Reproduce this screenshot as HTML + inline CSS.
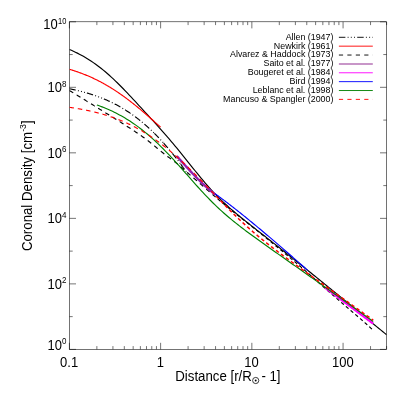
<!DOCTYPE html>
<html><head><meta charset="utf-8"><title>Coronal Density</title>
<style>
html,body{margin:0;padding:0;background:#fff;}
svg{display:block;will-change:transform;font-family:"Liberation Sans",sans-serif;}
</style></head>
<body>
<svg width="407" height="394" viewBox="0 0 407 394">
<rect x="0" y="0" width="407" height="394" fill="#fff"/>
<g stroke="#000" stroke-width="0.55" fill="none">
<rect x="69.4" y="21.8" width="317.20" height="327.60"/>
<line x1="69.40" y1="349.40" x2="69.40" y2="342.80"/><line x1="69.40" y1="21.80" x2="69.40" y2="28.40"/><line x1="96.86" y1="349.40" x2="96.86" y2="346.10"/><line x1="96.86" y1="21.80" x2="96.86" y2="25.10"/><line x1="112.93" y1="349.40" x2="112.93" y2="346.10"/><line x1="112.93" y1="21.80" x2="112.93" y2="25.10"/><line x1="124.32" y1="349.40" x2="124.32" y2="346.10"/><line x1="124.32" y1="21.80" x2="124.32" y2="25.10"/><line x1="133.16" y1="349.40" x2="133.16" y2="346.10"/><line x1="133.16" y1="21.80" x2="133.16" y2="25.10"/><line x1="140.39" y1="349.40" x2="140.39" y2="346.10"/><line x1="140.39" y1="21.80" x2="140.39" y2="25.10"/><line x1="146.49" y1="349.40" x2="146.49" y2="346.10"/><line x1="146.49" y1="21.80" x2="146.49" y2="25.10"/><line x1="151.78" y1="349.40" x2="151.78" y2="346.10"/><line x1="151.78" y1="21.80" x2="151.78" y2="25.10"/><line x1="156.45" y1="349.40" x2="156.45" y2="346.10"/><line x1="156.45" y1="21.80" x2="156.45" y2="25.10"/><line x1="160.62" y1="349.40" x2="160.62" y2="342.80"/><line x1="160.62" y1="21.80" x2="160.62" y2="28.40"/><line x1="188.09" y1="349.40" x2="188.09" y2="346.10"/><line x1="188.09" y1="21.80" x2="188.09" y2="25.10"/><line x1="204.15" y1="349.40" x2="204.15" y2="346.10"/><line x1="204.15" y1="21.80" x2="204.15" y2="25.10"/><line x1="215.55" y1="349.40" x2="215.55" y2="346.10"/><line x1="215.55" y1="21.80" x2="215.55" y2="25.10"/><line x1="224.39" y1="349.40" x2="224.39" y2="346.10"/><line x1="224.39" y1="21.80" x2="224.39" y2="25.10"/><line x1="231.61" y1="349.40" x2="231.61" y2="346.10"/><line x1="231.61" y1="21.80" x2="231.61" y2="25.10"/><line x1="237.72" y1="349.40" x2="237.72" y2="346.10"/><line x1="237.72" y1="21.80" x2="237.72" y2="25.10"/><line x1="243.01" y1="349.40" x2="243.01" y2="346.10"/><line x1="243.01" y1="21.80" x2="243.01" y2="25.10"/><line x1="247.68" y1="349.40" x2="247.68" y2="346.10"/><line x1="247.68" y1="21.80" x2="247.68" y2="25.10"/><line x1="251.85" y1="349.40" x2="251.85" y2="342.80"/><line x1="251.85" y1="21.80" x2="251.85" y2="28.40"/><line x1="279.31" y1="349.40" x2="279.31" y2="346.10"/><line x1="279.31" y1="21.80" x2="279.31" y2="25.10"/><line x1="295.38" y1="349.40" x2="295.38" y2="346.10"/><line x1="295.38" y1="21.80" x2="295.38" y2="25.10"/><line x1="306.77" y1="349.40" x2="306.77" y2="346.10"/><line x1="306.77" y1="21.80" x2="306.77" y2="25.10"/><line x1="315.61" y1="349.40" x2="315.61" y2="346.10"/><line x1="315.61" y1="21.80" x2="315.61" y2="25.10"/><line x1="322.84" y1="349.40" x2="322.84" y2="346.10"/><line x1="322.84" y1="21.80" x2="322.84" y2="25.10"/><line x1="328.94" y1="349.40" x2="328.94" y2="346.10"/><line x1="328.94" y1="21.80" x2="328.94" y2="25.10"/><line x1="334.23" y1="349.40" x2="334.23" y2="346.10"/><line x1="334.23" y1="21.80" x2="334.23" y2="25.10"/><line x1="338.90" y1="349.40" x2="338.90" y2="346.10"/><line x1="338.90" y1="21.80" x2="338.90" y2="25.10"/><line x1="343.07" y1="349.40" x2="343.07" y2="342.80"/><line x1="343.07" y1="21.80" x2="343.07" y2="28.40"/><line x1="370.54" y1="349.40" x2="370.54" y2="346.10"/><line x1="370.54" y1="21.80" x2="370.54" y2="25.10"/><line x1="386.60" y1="349.40" x2="386.60" y2="346.10"/><line x1="386.60" y1="21.80" x2="386.60" y2="25.10"/><line x1="69.40" y1="349.40" x2="76.00" y2="349.40"/><line x1="386.60" y1="349.40" x2="380.00" y2="349.40"/><line x1="69.40" y1="316.64" x2="72.70" y2="316.64"/><line x1="386.60" y1="316.64" x2="383.30" y2="316.64"/><line x1="69.40" y1="283.88" x2="76.00" y2="283.88"/><line x1="386.60" y1="283.88" x2="380.00" y2="283.88"/><line x1="69.40" y1="251.12" x2="72.70" y2="251.12"/><line x1="386.60" y1="251.12" x2="383.30" y2="251.12"/><line x1="69.40" y1="218.36" x2="76.00" y2="218.36"/><line x1="386.60" y1="218.36" x2="380.00" y2="218.36"/><line x1="69.40" y1="185.60" x2="72.70" y2="185.60"/><line x1="386.60" y1="185.60" x2="383.30" y2="185.60"/><line x1="69.40" y1="152.84" x2="76.00" y2="152.84"/><line x1="386.60" y1="152.84" x2="380.00" y2="152.84"/><line x1="69.40" y1="120.08" x2="72.70" y2="120.08"/><line x1="386.60" y1="120.08" x2="383.30" y2="120.08"/><line x1="69.40" y1="87.32" x2="76.00" y2="87.32"/><line x1="386.60" y1="87.32" x2="380.00" y2="87.32"/><line x1="69.40" y1="54.56" x2="72.70" y2="54.56"/><line x1="386.60" y1="54.56" x2="383.30" y2="54.56"/><line x1="69.40" y1="21.80" x2="76.00" y2="21.80"/><line x1="386.60" y1="21.80" x2="380.00" y2="21.80"/>
</g>
<clipPath id="c"><rect x="69.4" y="21.8" width="317.20" height="327.60"/></clipPath>
<g clip-path="url(#c)" stroke-linejoin="round">
<path d="M69.40,49.43 L71.39,50.30 L73.39,51.20 L75.38,52.15 L77.38,53.13 L79.37,54.16 L81.37,55.23 L83.36,56.35 L85.36,57.51 L87.35,58.72 L89.35,59.98 L91.34,61.28 L93.34,62.63 L95.33,64.04 L97.33,65.49 L99.32,66.99 L101.32,68.55 L103.31,70.16 L105.31,71.81 L107.30,73.52 L109.30,75.27 L111.29,77.07 L113.29,78.92 L115.28,80.81 L117.28,82.74 L119.27,84.72 L121.27,86.72 L123.26,88.76 L125.26,90.83 L127.25,92.92 L129.25,95.03 L131.24,97.16 L133.24,99.30 L135.23,101.45 L137.23,103.61 L139.22,105.77 L141.22,107.94 L143.21,110.10 L145.21,112.27 L147.20,114.44 L149.20,116.61 L151.19,118.79 L153.19,120.97 L155.18,123.16 L157.18,125.37 L159.17,127.58 L161.17,129.82 L163.16,132.07 L165.16,134.34 L167.15,136.64 L169.15,138.96 L171.14,141.30 L173.14,143.66 L175.13,146.05 L177.13,148.47 L179.12,150.90 L181.12,153.35 L183.11,155.82 L185.11,158.30 L187.10,160.79 L189.10,163.29 L191.09,165.79 L193.09,168.28 L195.08,170.76 L197.08,173.22 L199.07,175.67 L201.07,178.09 L203.06,180.47 L205.06,182.82 L207.05,185.13 L209.05,187.40 L211.04,189.61 L213.04,191.78 L215.03,193.89 L217.03,195.96 L219.02,197.97 L221.02,199.93 L223.01,201.85 L225.01,203.71 L227.00,205.54 L229.00,207.33 L230.99,209.08 L232.99,210.80 L234.98,212.49 L236.98,214.16 L238.97,215.81 L240.97,217.43 L242.96,219.04 L244.96,220.64 L246.95,222.23 L248.95,223.81 L250.94,225.38 L252.94,226.95 L254.93,228.52 L256.93,230.08 L258.92,231.64 L260.92,233.20 L262.91,234.76 L264.91,236.32 L266.90,237.88 L268.90,239.45 L270.89,241.01 L272.89,242.58 L274.88,244.15 L276.88,245.72 L278.87,247.29 L280.87,248.87 L282.86,250.45 L284.86,252.03 L286.85,253.62 L288.85,255.20 L290.84,256.79 L292.84,258.39 L294.83,259.98 L296.83,261.58 L298.82,263.18 L300.82,264.78 L302.81,266.38 L304.81,267.99 L306.80,269.59 L308.80,271.20 L310.79,272.81 L312.79,274.43 L314.78,276.04 L316.78,277.66 L318.77,279.27 L320.77,280.89 L322.76,282.51 L324.76,284.13 L326.75,285.76 L328.75,287.38 L330.74,289.01 L332.74,290.63 L334.73,292.26 L336.73,293.89 L338.72,295.52 L340.72,297.15 L342.71,298.78 L344.71,300.41 L346.70,302.04 L348.70,303.67 L350.69,305.31 L352.69,306.94 L354.68,308.58 L356.68,310.21 L358.67,311.85 L360.67,313.49 L362.66,315.12 L364.66,316.76 L366.65,318.40 L368.65,320.04 L370.64,321.68 L372.64,323.32 L374.63,324.96 L376.63,326.60 L378.62,328.24 L380.62,329.88 L382.61,331.52 L384.61,333.17 L386.60,334.81" fill="none" stroke="#000" stroke-width="1.15"/>
<path d="M69.40,88.77 L69.89,88.87 L70.38,88.96 L70.87,89.06 L71.36,89.16 L71.85,89.26 L72.34,89.37 L72.83,89.47 L73.32,89.57 L73.81,89.68 L74.30,89.78 L74.79,89.89 L75.27,90.00 L75.66,90.09 M77.90,90.61 L78.39,90.72 L78.78,90.82 M81.01,91.37 L81.50,91.50 L81.88,91.60 M84.11,92.19 L84.59,92.32 L84.98,92.43 M86.90,92.97 L87.38,93.11 L87.86,93.26 L88.34,93.40 L88.82,93.54 L89.30,93.69 L89.77,93.83 L90.25,93.98 L90.73,94.13 L91.21,94.28 L91.68,94.44 L92.16,94.59 L92.63,94.74 L93.01,94.87 M95.19,95.61 L95.66,95.77 L96.04,95.91 M98.20,96.69 L98.67,96.86 L99.05,97.00 M101.20,97.83 L101.66,98.01 L102.03,98.16 M103.88,98.91 L104.35,99.11 L104.81,99.30 L105.27,99.50 L105.73,99.69 L106.19,99.89 L106.64,100.09 L107.10,100.29 L107.56,100.50 L108.01,100.70 L108.47,100.91 L108.93,101.12 L109.38,101.33 L109.74,101.50 M111.82,102.49 L112.27,102.71 L112.63,102.88 M114.68,103.92 L115.12,104.15 L115.57,104.38 L116.01,104.61 L116.45,104.84 L116.89,105.08 L117.33,105.32 L117.77,105.56 L118.21,105.80 L118.65,106.04 L119.09,106.28 L119.52,106.53 L119.96,106.77 L120.39,107.02 M122.38,108.18 L122.81,108.44 L123.15,108.64 M125.11,109.85 L125.54,110.11 L125.96,110.38 L126.38,110.65 L126.80,110.92 L127.22,111.19 L127.64,111.46 L128.06,111.74 L128.48,112.01 L128.89,112.29 L129.31,112.57 L129.72,112.85 L130.14,113.13 L130.55,113.41 M132.44,114.73 L132.84,115.02 L133.17,115.25 M135.03,116.61 L135.43,116.90 L135.83,117.20 L136.23,117.50 L136.63,117.81 L137.02,118.11 L137.42,118.41 L137.82,118.72 L138.21,119.03 L138.60,119.34 L139.00,119.64 L139.39,119.96 L139.78,120.27 L140.17,120.58 M141.95,122.04 L142.34,122.36 L142.64,122.61 M144.40,124.10 L144.78,124.43 L145.15,124.75 L145.53,125.08 L145.91,125.41 L146.28,125.74 L146.66,126.08 L147.03,126.41 L147.40,126.74 L147.77,127.08 L148.14,127.41 L148.51,127.75 L148.88,128.09 L149.25,128.43 M150.93,130.00 L151.29,130.34 L151.58,130.62 M153.24,132.22 L153.59,132.57 L153.88,132.85 M154.38,133.34 L154.73,133.69 L155.09,134.04 L155.44,134.40 L155.79,134.75 L156.14,135.11 L156.49,135.47 L156.84,135.83 L157.19,136.18 L157.54,136.54 L157.88,136.90 L158.23,137.26 L158.58,137.63 L158.85,137.92 M160.43,139.59 L160.77,139.96 L161.04,140.25 M162.59,141.95 L162.93,142.32 L163.19,142.62 M163.66,143.14 L164.00,143.51 L164.33,143.89 L164.66,144.26 L164.99,144.64 L165.32,145.01 L165.65,145.39 L165.98,145.77 L166.31,146.14 L166.63,146.52 L166.96,146.90 L167.28,147.28 L167.61,147.66 L167.87,147.96 M169.35,149.72 L169.67,150.11 L169.93,150.41 M171.39,152.19 L171.71,152.58 L171.96,152.89 M172.40,153.43 L172.72,153.82 L173.03,154.21 L173.34,154.60 L173.65,154.99 L173.97,155.38 L174.28,155.77 L174.59,156.16 L174.90,156.56 L175.21,156.95 L175.51,157.34 L175.82,157.74 L176.13,158.13 L176.38,158.45 M177.78,160.27 L178.08,160.67 L178.33,160.99 M179.71,162.82 L180.01,163.22 L180.25,163.54 M180.67,164.10 L180.97,164.51 L181.27,164.91 L181.56,165.31 L181.86,165.71 L182.16,166.11 L182.45,166.52 L182.75,166.92 L183.04,167.33 L183.34,167.73 L183.63,168.14 L183.92,168.54 L184.21,168.95 L184.45,169.27 M185.79,171.14 L186.07,171.55 L186.31,171.88 M187.63,173.76 L187.91,174.17 L188.09,174.42" fill="none" stroke="#000" stroke-width="1.15"/>
<path d="M69.40,69.28 L69.97,69.46 L70.55,69.63 L71.12,69.80 L71.69,69.98 L72.27,70.16 L72.84,70.34 L73.42,70.52 L73.99,70.71 L74.56,70.89 L75.14,71.08 L75.71,71.27 L76.28,71.47 L76.86,71.66 L77.43,71.86 L78.01,72.06 L78.58,72.26 L79.15,72.47 L79.73,72.68 L80.30,72.89 L80.87,73.10 L81.45,73.31 L82.02,73.53 L82.60,73.75 L83.17,73.97 L83.74,74.19 L84.32,74.42 L84.89,74.65 L85.46,74.88 L86.04,75.11 L86.61,75.35 L87.19,75.59 L87.76,75.83 L88.33,76.07 L88.91,76.32 L89.48,76.57 L90.05,76.82 L90.63,77.07 L91.20,77.33 L91.78,77.59 L92.35,77.85 L92.92,78.12 L93.50,78.38 L94.07,78.65 L94.64,78.93 L95.22,79.20 L95.79,79.48 L96.37,79.76 L96.94,80.05 L97.51,80.33 L98.09,80.62 L98.66,80.91 L99.23,81.21 L99.81,81.50 L100.38,81.81 L100.96,82.11 L101.53,82.41 L102.10,82.72 L102.68,83.03 L103.25,83.35 L103.82,83.67 L104.40,83.99 L104.97,84.31 L105.55,84.63 L106.12,84.96 L106.69,85.29 L107.27,85.63 L107.84,85.97 L108.41,86.31 L108.99,86.65 L109.56,86.99 L110.14,87.34 L110.71,87.69 L111.28,88.05 L111.86,88.41 L112.43,88.77 L113.00,89.13 L113.58,89.49 L114.15,89.86 L114.73,90.23 L115.30,90.61 L115.87,90.98 L116.45,91.36 L117.02,91.75 L117.59,92.13 L118.17,92.52 L118.74,92.91 L119.32,93.30 L119.89,93.70 L120.46,94.10 L121.04,94.50 L121.61,94.91 L122.18,95.31 L122.76,95.72 L123.33,96.14 L123.91,96.55 L124.48,96.97 L125.05,97.39 L125.63,97.81 L126.20,98.24 L126.77,98.66 L127.35,99.10 L127.92,99.53 L128.50,99.96 L129.07,100.40 L129.64,100.84 L130.22,101.28 L130.79,101.73 L131.36,102.18 L131.94,102.63 L132.51,103.08 L133.09,103.53 L133.66,103.99 L134.23,104.45 L134.81,104.91 L135.38,105.37 L135.95,105.83 L136.53,106.30 L137.10,106.77 L137.68,107.24 L138.25,107.71 L138.82,108.19 L139.40,108.66 L139.97,109.14 L140.54,109.62 L141.12,110.10 L141.69,110.59 L142.27,111.07 L142.84,111.56 L143.41,112.05 L143.99,112.54 L144.56,113.03 L145.13,113.52 L145.71,114.01 L146.28,114.51 L146.86,115.01 L147.43,115.50 L148.00,116.00 L148.58,116.50 L149.15,117.00 L149.72,117.51 L150.30,118.01 L150.87,118.51 L151.45,119.02 L152.02,119.53 L152.59,120.03 L153.17,120.54 L153.74,121.05 L154.31,121.56 L154.89,122.07 L155.46,122.58 L156.03,123.09 L156.61,123.60 L157.18,124.11 L157.76,124.62 L158.33,125.13 L158.90,125.64 L159.48,126.16 L160.05,126.67 L160.62,127.18" fill="none" stroke="#ff0000" stroke-width="1.15"/>
<path d="M69.40,90.40 L69.83,90.66 L70.25,90.93 L70.68,91.19 L71.10,91.45 L71.53,91.71 L71.95,91.98 L72.38,92.24 L72.80,92.50 L73.23,92.76 M76.63,94.87 L77.06,95.13 L77.48,95.39 L77.91,95.66 L78.33,95.92 L78.76,96.18 L79.18,96.44 L79.61,96.71 L80.03,96.97 L80.46,97.23 M83.77,99.29 L84.20,99.55 L84.62,99.81 L85.05,100.08 L85.47,100.34 L85.90,100.60 L86.32,100.87 L86.75,101.13 L87.17,101.40 L87.60,101.66 M91.00,103.77 L91.42,104.03 L91.85,104.30 L92.27,104.56 L92.70,104.82 L93.12,105.09 L93.55,105.35 L93.97,105.62 L94.40,105.88 L94.82,106.14 M98.13,108.20 L98.56,108.47 L98.98,108.73 L99.41,108.99 L99.83,109.26 L100.26,109.52 L100.68,109.78 L101.11,110.05 L101.53,110.31 L101.96,110.57 M105.36,112.67 L105.79,112.93 L106.21,113.20 L106.64,113.46 L107.07,113.72 L107.49,113.98 L107.92,114.25 L108.34,114.51 L108.77,114.77 L109.19,115.03 M112.51,117.09 L112.93,117.35 L113.36,117.62 L113.78,117.88 L114.21,118.14 L114.63,118.41 L115.05,118.67 L115.48,118.94 L115.90,119.20 L116.33,119.47 M119.71,121.60 L120.13,121.87 L120.55,122.14 L120.98,122.41 L121.40,122.68 L121.82,122.95 L122.24,123.22 L122.66,123.49 L123.08,123.76 L123.50,124.03 M126.77,126.15 L127.19,126.42 L127.61,126.70 L128.03,126.97 L128.45,127.24 L128.87,127.51 L129.29,127.79 L129.71,128.06 L130.13,128.33 L130.54,128.61 M133.89,130.80 L134.30,131.08 L134.72,131.35 L135.14,131.63 L135.55,131.91 L135.97,132.19 L136.38,132.47 L136.80,132.75 L137.21,133.03 L137.63,133.31 M140.84,135.52 L141.25,135.80 L141.66,136.09 L142.07,136.38 L142.48,136.67 L142.88,136.96 L143.29,137.25 L143.70,137.54 L144.10,137.83 L144.51,138.12 M147.71,140.52 L148.11,140.82 L148.50,141.13 L148.89,141.44 L149.29,141.75 L149.68,142.06 L150.07,142.37 L150.46,142.68 L150.85,142.99 L151.24,143.31 M154.26,145.78 L154.65,146.09 L155.03,146.41 L155.42,146.73 L155.80,147.05 L156.19,147.37 L156.57,147.69 L156.96,148.01 L157.34,148.33 L157.73,148.65 M160.82,151.19 L161.20,151.51 L161.59,151.82 L161.98,152.13 L162.37,152.45 L162.76,152.76 L163.15,153.07 L163.54,153.38 L163.93,153.69 L164.33,154.00 M167.42,156.37 L167.83,156.67 L168.23,156.97 L168.63,157.26 L169.04,157.56 L169.44,157.85 L169.85,158.14 L170.25,158.44 L170.65,158.73 L171.06,159.03 M174.28,161.40 L174.67,161.71 L175.07,162.02 L175.46,162.32 L175.85,162.63 L176.25,162.94 L176.64,163.26 L177.02,163.57 L177.41,163.89 L177.79,164.21 M180.76,166.75 L181.13,167.08 L181.51,167.41 L181.88,167.74 L182.26,168.07 L182.63,168.40 L183.01,168.73 L183.38,169.06 L183.75,169.39 L184.13,169.72 M187.13,172.37 L187.51,172.69 L187.89,173.02 L188.27,173.35 L188.64,173.68 L189.02,174.00 L189.40,174.33 L189.78,174.66 L190.15,174.99 L190.53,175.31 M193.48,177.87 L193.85,178.20 L194.23,178.53 L194.61,178.86 L194.98,179.19 L195.36,179.51 L195.74,179.84 L196.11,180.17 L196.49,180.50 L196.87,180.83 M199.88,183.46 L200.26,183.79 L200.64,184.12 L201.01,184.44 L201.39,184.77 L201.77,185.10 L202.14,185.43 L202.52,185.76 L202.90,186.09 L203.27,186.42 M206.22,188.98 L206.59,189.30 L206.97,189.63 L207.35,189.96 L207.73,190.29 L208.11,190.61 L208.48,190.94 L208.86,191.27 L209.24,191.60 L209.62,191.92 M212.57,194.47 L212.95,194.80 L213.33,195.12 L213.71,195.45 L214.09,195.78 L214.47,196.10 L214.85,196.43 L215.23,196.75 L215.61,197.08 M217.66,198.83 L218.04,199.15 L218.42,199.48 L218.80,199.80 L219.19,200.12 L219.57,200.44 L219.95,200.77 L220.33,201.09 M222.40,202.83 L222.78,203.15 L223.16,203.47 L223.55,203.79 L223.93,204.11 L224.32,204.43 L224.70,204.75 L225.09,205.07 M227.17,206.79 L227.55,207.11 L227.94,207.42 L228.33,207.74 L228.71,208.06 L229.10,208.37 L229.49,208.69 L229.88,209.00 M231.97,210.70 L232.36,211.02 L232.75,211.33 L233.14,211.64 L233.53,211.96 L233.92,212.27 L234.31,212.58 L234.70,212.90 M236.81,214.58 L237.20,214.89 L237.60,215.20 L237.99,215.51 L238.38,215.83 L238.77,216.14 L239.16,216.45 L239.55,216.76 M241.67,218.43 L242.06,218.74 L242.46,219.05 L242.85,219.36 L243.24,219.67 L243.63,219.98 L244.03,220.29 L244.42,220.60 M246.54,222.27 L246.93,222.58 L247.33,222.89 L247.72,223.20 L248.11,223.51 L248.50,223.82 L248.90,224.13 L249.29,224.44 M251.41,226.11 L251.80,226.42 L252.19,226.73 L252.59,227.04 L252.98,227.35 L253.37,227.66 L253.76,227.97 L254.15,228.28 M256.27,229.96 L256.66,230.27 L257.05,230.59 L257.44,230.90 L257.83,231.21 L258.22,231.52 L258.61,231.83 L259.00,232.15 M261.11,233.84 L261.50,234.15 L261.88,234.47 L262.27,234.78 L262.66,235.10 L263.05,235.41 L263.44,235.73 L263.83,236.04 M265.92,237.75 L266.30,238.07 L266.69,238.38 L267.08,238.70 L267.46,239.02 L267.85,239.34 L268.24,239.65 L268.62,239.97 M270.71,241.68 L271.10,242.00 L271.48,242.32 L271.87,242.64 L272.25,242.95 L272.64,243.27 L273.03,243.59 L273.41,243.91 M275.50,245.63 L275.88,245.94 L276.27,246.26 L276.65,246.58 L277.04,246.90 L277.42,247.22 L277.81,247.54 L278.19,247.86 M280.27,249.58 L280.66,249.90 L281.04,250.22 L281.43,250.54 L281.81,250.86 L282.19,251.18 L282.58,251.50 L282.96,251.82 M285.04,253.55 L285.42,253.87 L285.80,254.19 L286.19,254.51 L286.57,254.83 L286.95,255.15 L287.34,255.47 L287.72,255.79 M289.79,257.53 L290.17,257.85 L290.55,258.17 L290.93,258.50 L291.32,258.82 L291.70,259.14 L292.08,259.46 L292.46,259.79 M294.52,261.53 L294.90,261.85 L295.29,262.18 L295.67,262.50 L296.05,262.83 L296.43,263.15 L296.81,263.47 L297.19,263.80 M299.24,265.55 L299.62,265.88 L300.00,266.20 L300.38,266.53 L300.76,266.85 L301.14,267.18 L301.52,267.50 L301.90,267.83 M303.95,269.59 L304.33,269.92 L304.70,270.24 L305.08,270.57 L305.46,270.90 L305.84,271.23 L306.21,271.56 L306.59,271.88 M308.62,273.67 L308.99,274.00 L309.37,274.33 L309.74,274.66 L310.12,274.99 L310.49,275.32 L310.87,275.66 L311.24,275.99 M313.25,277.79 L313.63,278.12 L314.00,278.45 L314.37,278.79 L314.74,279.12 L315.12,279.45 L315.49,279.79 L315.86,280.12 M317.87,281.92 L318.24,282.26 L318.61,282.59 L318.99,282.93 L319.36,283.26 L319.73,283.59 L320.10,283.93 L320.48,284.26 M322.49,286.06 L322.87,286.39 L323.24,286.72 L323.62,287.05 L323.99,287.38 L324.37,287.71 L324.74,288.04 L325.12,288.37 M327.15,290.15 L327.52,290.48 L327.90,290.81 L328.28,291.14 L328.65,291.47 L329.03,291.80 L329.41,292.13 L329.78,292.45 M331.82,294.22 L332.20,294.55 L332.58,294.88 L332.96,295.21 L333.33,295.53 L333.71,295.86 L334.09,296.19 L334.47,296.51 M336.51,298.28 L336.89,298.61 L337.27,298.93 L337.65,299.26 L338.03,299.59 L338.40,299.91 L338.78,300.24 L339.16,300.57 M341.21,302.33 L341.59,302.66 L341.96,302.98 L342.34,303.31 L342.72,303.64 L343.10,303.96 L343.48,304.29 L343.86,304.61 M345.90,306.38 L346.28,306.70 L346.66,307.03 L347.04,307.35 L347.42,307.68 L347.80,308.00 L348.18,308.33 L348.56,308.65 M350.62,310.40 L351.00,310.73 L351.38,311.05 L351.76,311.38 L352.14,311.70 L352.52,312.02 L352.90,312.35 L353.28,312.67 M355.34,314.42 L355.72,314.75 L356.10,315.07 L356.48,315.40 L356.86,315.72 L357.24,316.05 L357.62,316.37 L358.00,316.70 M360.05,318.46 L360.42,318.79 L360.80,319.11 L361.18,319.44 L361.56,319.77 L361.93,320.10 L362.31,320.43 L362.68,320.76 M364.71,322.54 L365.08,322.88 L365.46,323.21 L365.83,323.54 L366.20,323.88 L366.57,324.21 L366.94,324.55 L367.31,324.88 M369.31,326.70 L369.68,327.04 L370.04,327.38 L370.41,327.72 L370.78,328.06 L371.15,328.40 L371.51,328.74 L371.88,329.08" fill="none" stroke="#000" stroke-width="1.15"/>
<path d="M176.69,155.97 L176.93,156.25 L177.18,156.52 L177.42,156.79 L177.67,157.07 L177.91,157.34 L178.16,157.61 L178.40,157.89 L178.64,158.16 L178.89,158.43 L179.13,158.71 L179.38,158.98 L179.62,159.25 L179.87,159.53 L180.11,159.80 L180.35,160.07 L180.60,160.34 L180.84,160.62 L181.09,160.89 L181.33,161.16 L181.58,161.44 L181.82,161.71 L182.07,161.98 L182.31,162.26 L182.55,162.53 L182.80,162.80 L183.04,163.07 L183.29,163.34 L183.53,163.62 L183.78,163.89 L184.02,164.16 L184.27,164.43 L184.51,164.70 L184.75,164.97 L185.00,165.24 L185.24,165.51 L185.49,165.79 L185.73,166.06 L185.98,166.32 L186.22,166.59 L186.46,166.86 L186.71,167.13 L186.95,167.40 L187.20,167.67 L187.44,167.94 L187.69,168.20 L187.93,168.47 L188.18,168.74 L188.42,169.01 L188.66,169.27 L188.91,169.54 L189.15,169.80 L189.40,170.07 L189.64,170.33 L189.89,170.60 L190.13,170.86 L190.37,171.12 L190.62,171.39 L190.86,171.65 L191.11,171.91 L191.35,172.17 L191.60,172.43 L191.84,172.69 L192.09,172.95 L192.33,173.21 L192.57,173.47 L192.82,173.73 L193.06,173.99 L193.31,174.24 L193.55,174.50 L193.80,174.76 L194.04,175.01 L194.29,175.27 L194.53,175.52 L194.77,175.77 L195.02,176.03 L195.26,176.28 L195.51,176.53 L195.75,176.78 L196.00,177.03 L196.24,177.28 L196.48,177.53 L196.73,177.78 L196.97,178.03 L197.22,178.28 L197.46,178.52 L197.71,178.77 L197.95,179.02 L198.20,179.26 L198.44,179.50 L198.68,179.75 L198.93,179.99 L199.17,180.23 L199.42,180.47 L199.66,180.71 L199.91,180.95 L200.15,181.19 L200.40,181.43 L200.64,181.67 L200.88,181.91 L201.13,182.14 L201.37,182.38 L201.62,182.61 L201.86,182.85 L202.11,183.08 L202.35,183.31 L202.59,183.55 L202.84,183.78 L203.08,184.01 L203.33,184.24 L203.57,184.47 L203.82,184.70 L204.06,184.92 L204.31,185.15 L204.55,185.38 L204.79,185.60 L205.04,185.83 L205.28,186.05 L205.53,186.28 L205.77,186.50 L206.02,186.72 L206.26,186.94 L206.51,187.16 L206.75,187.38 L206.99,187.60 L207.24,187.82 L207.48,188.04 L207.73,188.26 L207.97,188.47 L208.22,188.69 L208.46,188.90 L208.70,189.12 L208.95,189.33 L209.19,189.54 L209.44,189.76 L209.68,189.97 L209.93,190.18 L210.17,190.39 L210.42,190.60 L210.66,190.81 L210.90,191.02 L211.15,191.22 L211.39,191.43 L211.64,191.64 L211.88,191.84 L212.13,192.05 L212.37,192.25 L212.61,192.46 L212.86,192.66 L213.10,192.87 L213.35,193.07 L213.59,193.27 L213.84,193.47 L214.08,193.67 L214.33,193.87 L214.57,194.07 L214.81,194.27 L215.06,194.47 L215.30,194.67 L215.55,194.86" fill="none" stroke="#9020b0" stroke-width="2.4"/>
<path d="M325.08,287.61 L325.39,287.83 L325.69,288.06 L325.99,288.28 L326.29,288.51 L326.60,288.73 L326.90,288.96 L327.20,289.18 L327.50,289.41 L327.81,289.63 L328.11,289.86 L328.41,290.08 L328.72,290.31 L329.02,290.53 L329.32,290.76 L329.62,290.98 L329.93,291.21 L330.23,291.43 L330.53,291.66 L330.83,291.88 L331.14,292.11 L331.44,292.33 L331.74,292.56 L332.05,292.78 L332.35,293.01 L332.65,293.23 L332.95,293.46 L333.26,293.69 L333.56,293.91 L333.86,294.14 L334.16,294.36 L334.47,294.59 L334.77,294.81 L335.07,295.04 L335.38,295.26 L335.68,295.49 L335.98,295.71 L336.28,295.94 L336.59,296.17 L336.89,296.39 L337.19,296.62 L337.49,296.84 L337.80,297.07 L338.10,297.29 L338.40,297.52 L338.71,297.75 L339.01,297.97 L339.31,298.20 L339.61,298.42 L339.92,298.65 L340.22,298.88 L340.52,299.10 L340.82,299.33 L341.13,299.55 L341.43,299.78 L341.73,300.00 L342.04,300.23 L342.34,300.46 L342.64,300.68 L342.94,300.91 L343.25,301.13 L343.55,301.36 L343.85,301.59 L344.15,301.81 L344.46,302.04 L344.76,302.27 L345.06,302.49 L345.37,302.72 L345.67,302.94 L345.97,303.17 L346.27,303.40 L346.58,303.62 L346.88,303.85 L347.18,304.07 L347.48,304.30 L347.79,304.53 L348.09,304.75 L348.39,304.98 L348.70,305.21 L349.00,305.43 L349.30,305.66 L349.60,305.89 L349.91,306.11 L350.21,306.34 L350.51,306.56 L350.81,306.79 L351.12,307.02 L351.42,307.24 L351.72,307.47 L352.03,307.70 L352.33,307.92 L352.63,308.15 L352.93,308.38 L353.24,308.60 L353.54,308.83 L353.84,309.06 L354.14,309.28 L354.45,309.51 L354.75,309.74 L355.05,309.96 L355.36,310.19 L355.66,310.42 L355.96,310.64 L356.26,310.87 L356.57,311.10 L356.87,311.32 L357.17,311.55 L357.47,311.78 L357.78,312.00 L358.08,312.23 L358.38,312.46 L358.69,312.68 L358.99,312.91 L359.29,313.14 L359.59,313.36 L359.90,313.59 L360.20,313.82 L360.50,314.04 L360.80,314.27 L361.11,314.50 L361.41,314.72 L361.71,314.95 L362.02,315.18 L362.32,315.40 L362.62,315.63 L362.92,315.86 L363.23,316.09 L363.53,316.31 L363.83,316.54 L364.13,316.77 L364.44,316.99 L364.74,317.22 L365.04,317.45 L365.35,317.67 L365.65,317.90 L365.95,318.13 L366.25,318.36 L366.56,318.58 L366.86,318.81 L367.16,319.04 L367.46,319.26 L367.77,319.49 L368.07,319.72 L368.37,319.94 L368.68,320.17 L368.98,320.40 L369.28,320.63 L369.58,320.85 L369.89,321.08 L370.19,321.31 L370.49,321.53 L370.79,321.76 L371.10,321.99 L371.40,322.22 L371.70,322.44 L372.01,322.67 L372.31,322.90 L372.61,323.13 L372.91,323.35 L373.22,323.58" fill="none" stroke="#ff00ff" stroke-width="2.4"/>
<path d="M215.05,193.70 L215.63,194.13 L216.22,194.55 L216.80,194.97 L217.38,195.40 L217.96,195.83 L218.55,196.25 L219.13,196.68 L219.71,197.11 L220.30,197.54 L220.88,197.98 L221.46,198.41 L222.05,198.84 L222.63,199.28 L223.21,199.72 L223.79,200.16 L224.38,200.59 L224.96,201.03 L225.54,201.48 L226.13,201.92 L226.71,202.36 L227.29,202.81 L227.88,203.25 L228.46,203.70 L229.04,204.15 L229.63,204.59 L230.21,205.04 L230.79,205.49 L231.37,205.94 L231.96,206.40 L232.54,206.85 L233.12,207.30 L233.71,207.76 L234.29,208.22 L234.87,208.67 L235.46,209.13 L236.04,209.59 L236.62,210.05 L237.20,210.51 L237.79,210.97 L238.37,211.43 L238.95,211.90 L239.54,212.36 L240.12,212.82 L240.70,213.29 L241.29,213.76 L241.87,214.22 L242.45,214.69 L243.03,215.16 L243.62,215.63 L244.20,216.10 L244.78,216.57 L245.37,217.04 L245.95,217.51 L246.53,217.99 L247.12,218.46 L247.70,218.94 L248.28,219.41 L248.87,219.89 L249.45,220.36 L250.03,220.84 L250.61,221.32 L251.20,221.80 L251.78,222.28 L252.36,222.76 L252.95,223.24 L253.53,223.72 L254.11,224.20 L254.70,224.68 L255.28,225.17 L255.86,225.65 L256.44,226.13 L257.03,226.62 L257.61,227.10 L258.19,227.59 L258.78,228.08 L259.36,228.56 L259.94,229.05 L260.53,229.54 L261.11,230.03 L261.69,230.52 L262.27,231.01 L262.86,231.50 L263.44,231.99 L264.02,232.48 L264.61,232.97 L265.19,233.46 L265.77,233.95 L266.36,234.45 L266.94,234.94 L267.52,235.44 L268.10,235.93 L268.69,236.43 L269.27,236.92 L269.85,237.42 L270.44,237.91 L271.02,238.41 L271.60,238.91 L272.19,239.40 L272.77,239.90 L273.35,240.40 L273.94,240.90 L274.52,241.40 L275.10,241.90 L275.68,242.40 L276.27,242.90 L276.85,243.40 L277.43,243.90 L278.02,244.40 L278.60,244.90 L279.18,245.41 L279.77,245.91 L280.35,246.41 L280.93,246.92 L281.51,247.42 L282.10,247.92 L282.68,248.43 L283.26,248.93 L283.85,249.44 L284.43,249.94 L285.01,250.45 L285.60,250.95 L286.18,251.46 L286.76,251.97 L287.34,252.47 L287.93,252.98 L288.51,253.49 L289.09,254.00 L289.68,254.50 L290.26,255.01 L290.84,255.52 L291.43,256.03 L292.01,256.54 L292.59,257.05 L293.18,257.56 L293.76,258.07 L294.34,258.58 L294.92,259.09 L295.51,259.60 L296.09,260.11 L296.67,260.62 L297.26,261.13 L297.84,261.64 L298.42,262.15 L299.01,262.67 L299.59,263.18 L300.17,263.69 L300.75,264.20 L301.34,264.72 L301.92,265.23 L302.50,265.74 L303.09,266.25 L303.67,266.77 L304.25,267.28 L304.84,267.80 L305.42,268.31 L306.00,268.83 L306.58,269.34 L307.17,269.85 L307.75,270.37" fill="none" stroke="#0000ff" stroke-width="1.15"/>
<path d="M96.86,104.93 L98.60,105.55 L100.34,106.19 L102.08,106.85 L103.81,107.54 L105.55,108.25 L107.29,108.99 L109.03,109.75 L110.77,110.54 L112.50,111.35 L114.24,112.20 L115.98,113.07 L117.72,113.97 L119.46,114.89 L121.19,115.85 L122.93,116.84 L124.67,117.86 L126.41,118.91 L128.15,119.99 L129.89,121.10 L131.62,122.25 L133.36,123.43 L135.10,124.64 L136.84,125.88 L138.58,127.16 L140.31,128.47 L142.05,129.82 L143.79,131.19 L145.53,132.61 L147.27,134.05 L149.00,135.53 L150.74,137.04 L152.48,138.59 L154.22,140.17 L155.96,141.78 L157.69,143.42 L159.43,145.09 L161.17,146.79 L162.91,148.52 L164.65,150.28 L166.38,152.06 L168.12,153.88 L169.86,155.71 L171.60,157.57 L173.34,159.45 L175.08,161.34 L176.81,163.26 L178.55,165.19 L180.29,167.13 L182.03,169.09 L183.77,171.05 L185.50,173.02 L187.24,174.99 L188.98,176.97 L190.72,178.94 L192.46,180.90 L194.19,182.86 L195.93,184.81 L197.67,186.75 L199.41,188.67 L201.15,190.57 L202.88,192.45 L204.62,194.31 L206.36,196.14 L208.10,197.95 L209.84,199.74 L211.57,201.49 L213.31,203.22 L215.05,204.91 L216.79,206.58 L218.53,208.22 L220.27,209.82 L222.00,211.40 L223.74,212.96 L225.48,214.48 L227.22,215.98 L228.96,217.46 L230.69,218.91 L232.43,220.34 L234.17,221.75 L235.91,223.14 L237.65,224.51 L239.38,225.87 L241.12,227.21 L242.86,228.54 L244.60,229.86 L246.34,231.17 L248.07,232.46 L249.81,233.75 L251.55,235.02 L253.29,236.29 L255.03,237.56 L256.77,238.82 L258.50,240.07 L260.24,241.32 L261.98,242.56 L263.72,243.80 L265.46,245.04 L267.19,246.27 L268.93,247.50 L270.67,248.73 L272.41,249.96 L274.15,251.19 L275.88,252.42 L277.62,253.64 L279.36,254.87 L281.10,256.09 L282.84,257.31 L284.57,258.54 L286.31,259.76 L288.05,260.98 L289.79,262.21 L291.53,263.43 L293.26,264.66 L295.00,265.88 L296.74,267.10 L298.48,268.33 L300.22,269.55 L301.96,270.78 L303.69,272.00 L305.43,273.23 L307.17,274.46 L308.91,275.68 L310.65,276.91 L312.38,278.14 L314.12,279.37 L315.86,280.60 L317.60,281.83 L319.34,283.06 L321.07,284.29 L322.81,285.52 L324.55,286.76 L326.29,287.99 L328.03,289.22 L329.76,290.46 L331.50,291.69 L333.24,292.92 L334.98,294.16 L336.72,295.40 L338.45,296.63 L340.19,297.87 L341.93,299.11 L343.67,300.34 L345.41,301.58 L347.15,302.82 L348.88,304.06 L350.62,305.30 L352.36,306.54 L354.10,307.78 L355.84,309.02 L357.57,310.26 L359.31,311.50 L361.05,312.74 L362.79,313.98 L364.53,315.22 L366.26,316.46 L368.00,317.70 L369.74,318.95 L371.48,320.19 L373.22,321.43" fill="none" stroke="#008000" stroke-width="1.15"/>
<path d="M69.40,107.33 L69.90,107.40 L70.39,107.47 L70.89,107.54 L71.38,107.61 L71.87,107.69 L72.37,107.76 L72.86,107.83 L73.36,107.91 L73.85,107.99 M77.80,108.63 L78.30,108.71 L78.79,108.79 L79.28,108.88 L79.77,108.97 L80.27,109.05 L80.76,109.14 L81.25,109.23 L81.74,109.32 L82.23,109.41 M86.06,110.16 L86.55,110.26 L87.04,110.36 L87.53,110.46 L88.02,110.57 L88.51,110.67 L89.00,110.78 L89.49,110.88 L89.98,110.99 L90.47,111.10 M94.36,112.00 L94.85,112.12 L95.33,112.24 L95.82,112.36 L96.30,112.49 L96.79,112.61 L97.27,112.73 L97.76,112.86 L98.24,112.99 L98.72,113.12 M102.48,114.16 L102.96,114.29 L103.44,114.43 L103.92,114.57 L104.40,114.72 L104.88,114.86 L105.36,115.01 L105.84,115.15 L106.32,115.30 L106.79,115.45 M110.60,116.69 L111.07,116.85 L111.54,117.01 L112.02,117.18 L112.49,117.34 L112.96,117.51 L113.43,117.67 L113.90,117.84 L114.37,118.01 L114.84,118.19 M118.49,119.57 L118.95,119.75 L119.42,119.94 L119.88,120.13 L120.35,120.31 L120.81,120.50 L121.27,120.69 L121.73,120.89 L122.19,121.08 L122.66,121.27 M126.32,122.88 L126.78,123.09 L127.23,123.30 L127.68,123.51 L128.14,123.72 L128.59,123.93 L129.04,124.14 L129.49,124.36 L129.94,124.58 L130.30,124.75 M133.88,126.54 L134.33,126.77 L134.77,127.00 L135.21,127.23 L135.65,127.47 L136.10,127.70 L136.54,127.94 L136.98,128.18 L137.42,128.41 L137.86,128.65 M141.34,130.62 L141.77,130.87 L142.20,131.12 L142.63,131.38 L143.06,131.64 L143.49,131.89 L143.92,132.15 L144.35,132.41 L144.78,132.67 L145.12,132.88 M148.50,135.01 L148.92,135.28 L149.34,135.55 L149.76,135.82 L150.18,136.10 L150.60,136.38 L151.01,136.65 L151.43,136.93 L151.84,137.21 L152.26,137.49 M155.55,139.77 L155.95,140.06 L156.36,140.35 L156.77,140.64 L157.17,140.93 L157.58,141.23 L157.98,141.52 L158.38,141.82 L158.79,142.12 L159.11,142.35 M162.30,144.77 L162.70,145.07 L163.09,145.37 L163.49,145.68 L163.88,145.99 L164.27,146.30 L164.67,146.61 L165.06,146.92 L165.45,147.23 L165.84,147.55 M168.94,150.07 L169.33,150.39 L169.71,150.71 L170.10,151.03 L170.48,151.35 L170.86,151.67 L171.24,152.00 L171.63,152.32 L172.01,152.65 L172.31,152.90 M175.33,155.53 L175.71,155.86 L176.08,156.19 L176.46,156.52 L176.83,156.85 L177.20,157.19 L177.57,157.52 L177.95,157.86 L178.32,158.19 L178.69,158.53 M181.64,161.23 L182.00,161.57 L182.37,161.91 L182.73,162.25 L183.10,162.60 L183.46,162.94 L183.83,163.28 L184.19,163.62 L184.56,163.97 L184.84,164.24 M187.73,167.01 L188.09,167.36 L188.45,167.71 L188.81,168.06 L189.17,168.41 L189.52,168.76 L189.88,169.11 L190.24,169.46 L190.59,169.81 L190.95,170.16 M193.79,172.98 L194.14,173.33 L194.49,173.69 L194.85,174.04 L195.20,174.40 L195.55,174.75 L195.90,175.11 L196.25,175.47 L196.61,175.82 L196.89,176.11 M199.69,178.97 L200.03,179.32 L200.38,179.68 L200.73,180.04 L201.08,180.40 L201.43,180.76 L201.78,181.12 L202.12,181.48 L202.47,181.84 L202.82,182.20 M205.59,185.08 L205.94,185.44 L206.28,185.80 L206.63,186.16 L206.98,186.52 L207.32,186.89 L207.67,187.25 L208.01,187.61 L208.36,187.97 L208.64,188.26 M211.40,191.15 L211.74,191.52 L212.09,191.88 L212.43,192.24 L212.78,192.60 L213.12,192.96 L213.47,193.32 L213.81,193.69 L214.16,194.05 L214.37,194.27" fill="none" stroke="#ff0000" stroke-width="1.15"/>
<path d="M216.30,196.29 L216.65,196.65 L216.99,197.01 L217.34,197.37 L217.69,197.74 L218.03,198.10 L218.38,198.46 L218.72,198.82 M220.60,200.76 L220.94,201.12 L221.29,201.48 L221.64,201.84 L221.99,202.20 L222.33,202.56 L222.68,202.92 L223.03,203.28 M224.91,205.22 L225.26,205.57 L225.61,205.93 L225.96,206.29 L226.31,206.64 L226.66,207.00 L227.02,207.36 L227.37,207.71 M229.27,209.63 L229.62,209.99 L229.97,210.34 L230.33,210.69 L230.68,211.05 L231.04,211.40 L231.39,211.75 L231.74,212.11 M233.67,214.00 L234.02,214.35 L234.38,214.70 L234.74,215.05 L235.10,215.40 L235.45,215.75 L235.81,216.10 L236.17,216.45 M238.12,218.32 L238.48,218.66 L238.84,219.01 L239.21,219.35 L239.57,219.70 L239.93,220.04 L240.30,220.38 L240.66,220.73 M242.64,222.57 L243.00,222.91 L243.37,223.25 L243.74,223.59 L244.11,223.92 L244.48,224.26 L244.84,224.60 L245.21,224.94 M247.22,226.75 L247.59,227.08 L247.96,227.41 L248.34,227.75 L248.71,228.08 L249.08,228.41 L249.46,228.74 L249.84,229.07 M251.87,230.85 L252.25,231.18 L252.62,231.51 L253.00,231.83 L253.38,232.16 L253.76,232.48 L254.14,232.81 L254.52,233.13 M256.58,234.88 L256.97,235.20 L257.35,235.52 L257.74,235.84 L258.12,236.16 L258.50,236.48 L258.89,236.80 L259.28,237.12 M261.36,238.83 L261.75,239.14 L262.14,239.46 L262.53,239.77 L262.92,240.09 L263.31,240.40 L263.70,240.71 L264.09,241.03 M266.20,242.71 L266.59,243.02 L266.98,243.33 L267.38,243.64 L267.77,243.95 L268.16,244.26 L268.56,244.57 L268.95,244.87 M271.08,246.53 L271.48,246.84 L271.87,247.14 L272.27,247.45 L272.67,247.75 L273.07,248.06 L273.46,248.36 L273.86,248.67 M276.01,250.30 L276.41,250.60 L276.81,250.90 L277.21,251.20 L277.60,251.51 L278.00,251.81 L278.40,252.11 L278.80,252.41 M280.97,254.02 L281.37,254.32 L281.77,254.62 L282.17,254.92 L282.57,255.22 L282.97,255.52 L283.38,255.81 L283.78,256.11 M285.95,257.71 L286.36,258.01 L286.76,258.31 L287.16,258.60 L287.56,258.90 L287.97,259.19 L288.37,259.49 L288.78,259.78 M290.96,261.38 L291.36,261.67 L291.77,261.96 L292.17,262.26 L292.58,262.55 L292.98,262.85 L293.38,263.14 L293.79,263.43 M295.98,265.02 L296.38,265.31 L296.79,265.60 L297.19,265.89 L297.60,266.19 L298.00,266.48 L298.41,266.77 L298.82,267.06 M301.01,268.64 L301.41,268.93 L301.82,269.23 L302.23,269.52 L302.63,269.81 L303.04,270.10 L303.45,270.39 L303.85,270.68 M306.05,272.26 L306.45,272.55 L306.86,272.84 L307.27,273.13 L307.67,273.42 L308.08,273.71 L308.49,274.00 L308.89,274.29 M311.09,275.86 L311.50,276.16 L311.91,276.45 L312.31,276.74 L312.72,277.03 L313.13,277.32 L313.53,277.61 L313.94,277.90 M316.14,279.47 L316.55,279.76 L316.95,280.05 L317.36,280.34 L317.77,280.63 L318.17,280.92 L318.58,281.21 L318.99,281.50 M321.19,283.07 L321.60,283.36 L322.00,283.65 L322.41,283.94 L322.82,284.23 L323.22,284.52 L323.63,284.81 L324.04,285.10 M326.24,286.67 L326.65,286.96 L327.05,287.25 L327.46,287.54 L327.87,287.83 L328.28,288.12 L328.68,288.41 L329.09,288.70 M331.29,290.26 L331.70,290.56 L332.10,290.85 L332.51,291.14 L332.92,291.43 L333.33,291.72 L333.73,292.01 L334.14,292.30 M336.34,293.86 L336.75,294.15 L337.15,294.44 L337.56,294.73 L337.97,295.02 L338.38,295.32 L338.78,295.61 L339.19,295.90 M341.39,297.46 L341.80,297.75 L342.20,298.04 L342.61,298.33 L343.02,298.62 L343.43,298.92 L343.83,299.21 L344.24,299.50 M346.44,301.06 L346.85,301.35 L347.25,301.64 L347.66,301.94 L348.07,302.23 L348.47,302.52 L348.88,302.81 L349.29,303.10 M351.49,304.67 L351.89,304.96 L352.30,305.25 L352.71,305.54 L353.12,305.83 L353.52,306.12 L353.93,306.41 L354.34,306.70 M356.53,308.27 L356.94,308.56 L357.35,308.85 L357.76,309.14 L358.16,309.43 L358.57,309.72 L358.98,310.01 L359.38,310.30 M361.58,311.87 L361.99,312.16 L362.39,312.45 L362.80,312.75 L363.21,313.04 L363.62,313.33 L364.02,313.62 L364.43,313.91 M366.63,315.48 L367.03,315.77 L367.44,316.06 L367.85,316.35 L368.25,316.64 L368.66,316.93 L369.07,317.22 L369.47,317.51 M371.67,319.09 L372.08,319.38 L372.48,319.67 L372.89,319.96 L373.22,320.19" fill="none" stroke="#ff0000" stroke-width="1.5"/>
</g>
<g fill="#000">
<text transform="translate(69.10,366.50) scale(1,1.08)" text-anchor="middle" font-size="13">0.1</text><text transform="translate(160.32,366.50) scale(1,1.08)" text-anchor="middle" font-size="13">1</text><text transform="translate(251.55,366.50) scale(1,1.08)" text-anchor="middle" font-size="13">10</text><text transform="translate(342.77,366.50) scale(1,1.08)" text-anchor="middle" font-size="13">100</text><text transform="translate(61.90,349.80) scale(1,1.08)" text-anchor="end" font-size="13">10</text><text transform="translate(62.10,344.20) scale(1,1.15)" text-anchor="start" font-size="8">0</text><text transform="translate(61.90,288.78) scale(1,1.08)" text-anchor="end" font-size="13">10</text><text transform="translate(62.10,283.18) scale(1,1.15)" text-anchor="start" font-size="8">2</text><text transform="translate(61.90,223.26) scale(1,1.08)" text-anchor="end" font-size="13">10</text><text transform="translate(62.10,217.66) scale(1,1.15)" text-anchor="start" font-size="8">4</text><text transform="translate(61.90,157.74) scale(1,1.08)" text-anchor="end" font-size="13">10</text><text transform="translate(62.10,152.14) scale(1,1.15)" text-anchor="start" font-size="8">6</text><text transform="translate(61.90,92.22) scale(1,1.08)" text-anchor="end" font-size="13">10</text><text transform="translate(62.10,86.62) scale(1,1.15)" text-anchor="start" font-size="8">8</text><text transform="translate(57.70,29.10) scale(1,1.08)" text-anchor="end" font-size="13">10</text><text transform="translate(58.00,24.20) scale(1,1.3)" text-anchor="start" font-size="7.5">10</text>
<text transform="translate(251.80,381.00) scale(1,1.08)" text-anchor="end" font-size="13.25">Distance [r/R</text><text transform="translate(261.40,381.00) scale(1,1.08)" text-anchor="start" font-size="13.25">- 1]</text><circle cx="255.7" cy="380.5" r="3.1" fill="none" stroke="#000" stroke-width="0.75"/><circle cx="255.7" cy="380.5" r="0.95" fill="#000"/>
<text transform="translate(31.60,185.70) rotate(-90) scale(1,1.08)" text-anchor="middle" font-size="13.25">Coronal Density [cm<tspan font-size="8.8" dy="-5.0">-3</tspan><tspan dy="5.0">]</tspan></text>
<text transform="translate(333.40,39.65) scale(1,1.08)" text-anchor="end" font-size="8.87">Allen (1947)</text><path d="M338.9,37.30 L372.8,37.30" fill="none" stroke="#000" stroke-width="0.92" stroke-dasharray="6.5 2.2 1 2.2 1 2.2 1 2.2"/><text transform="translate(333.40,48.52) scale(1,1.08)" text-anchor="end" font-size="8.87">Newkirk (1961)</text><path d="M338.9,46.17 L372.8,46.17" fill="none" stroke="#ff0000" stroke-width="0.92"/><text transform="translate(333.40,57.39) scale(1,1.08)" text-anchor="end" font-size="8.87">Alvarez &amp; Haddock (1973)</text><path d="M338.9,55.04 L372.8,55.04" fill="none" stroke="#000" stroke-width="0.92" stroke-dasharray="4.2 4.25"/><text transform="translate(333.40,66.26) scale(1,1.08)" text-anchor="end" font-size="8.87">Saito et al. (1977)</text><path d="M338.9,63.91 L372.8,63.91" fill="none" stroke="#c896c8" stroke-width="2"/><text transform="translate(333.40,75.13) scale(1,1.08)" text-anchor="end" font-size="8.87">Bougeret et al. (1984)</text><path d="M338.9,72.78 L372.8,72.78" fill="none" stroke="#ff00ff" stroke-width="0.92"/><text transform="translate(333.40,84.00) scale(1,1.08)" text-anchor="end" font-size="8.87">Bird (1994)</text><path d="M338.9,81.65 L372.8,81.65" fill="none" stroke="#0000ff" stroke-width="0.92"/><text transform="translate(333.40,92.87) scale(1,1.08)" text-anchor="end" font-size="8.87">Leblanc et al. (1998)</text><path d="M338.9,90.52 L372.8,90.52" fill="none" stroke="#008000" stroke-width="0.92"/><text transform="translate(333.40,101.74) scale(1,1.08)" text-anchor="end" font-size="8.87">Mancuso &amp; Spangler (2000)</text><path d="M338.9,99.39 L372.8,99.39" fill="none" stroke="#ff0000" stroke-width="0.92" stroke-dasharray="4.2 4.25"/>
</g>
</svg>
</body></html>
